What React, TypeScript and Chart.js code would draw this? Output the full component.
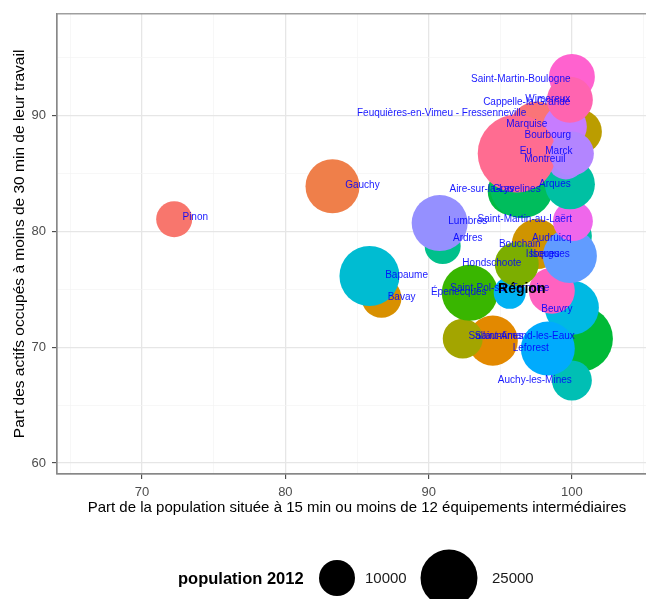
import React, { useEffect, useRef } from "react";
import { Chart, registerables } from "chart.js";
Chart.register(...registerables);

// ---- data (drawing order: back to front) ----
const communes = [
  "Pinon", "Gauchy", "Bavay", "Bapaume", "Ardres", "Lumbres", "Sallaumines", "Wingles",
  "Éperlecques", "Saint-Amand-les-Eaux", "Auchy-les-Mines", "Beuvry", "Leforest",
  "Saint-Pol-sur-Ternoise", "Lillers", "Audruicq", "Bouchain", "Isques", "Isbergues",
  "Hondschoote", "Saint-Martin-au-Laërt", "Feuquières-en-Vimeu - Fressenneville",
  "Aire-sur-la-Lys", "Gravelines", "Arques", "Bourbourg", "Marquise", "Montreuil", "Eu",
  "Marck", "Saint-Martin-Boulogne", "Cappelle-la-Grande", "Wimereux",
];
const xValues = [
  72.24, 83.29, 86.71, 85.87, 90.98, 90.77, 94.48, 92.38,
  92.87, 100.56, 100.0, 100.0, 98.32,
  95.66, 98.6, 100.0, 97.55, 99.58, 99.86,
  96.15, 100.07, 97.55,
  95.8, 96.5, 99.86, 100.56, 99.51, 99.58, 96.15,
  100.0, 100.0, 99.72, 99.86,
];
const yValues = [
  81.06, 83.9, 74.27, 76.16, 78.74, 80.72, 70.57, 70.74,
  74.7, 70.74, 67.13, 73.41, 69.88,
  74.7, 74.87, 79.6, 78.91, 77.62, 77.88,
  77.19, 80.89, 88.8,
  83.47, 83.9, 84.07, 88.62, 89.05, 86.05, 86.73,
  86.73, 93.35, 91.2, 91.38,
];
const population = [
  10000, 22500, 12300, 27800, 10000, 24200, 19300, 12300,
  24200, 33600, 12300, 22500, 22500,
  7900, 16300, 12300, 19300, 10000, 22500,
  14900, 12300, 24200,
  17800, 31600, 19300, 14900, 14900, 10000, 47000,
  14900, 16300, 12300, 16300,
];
const colors = [
  "#F8766D", "#EF7F4A", "#D89000", "#00BCD2", "#00C08B", "#9590FF", "#E38900", "#A3A500",
  "#39B600", "#00BA38", "#00BFB4", "#00B9E3", "#00ABFD",
  "#00B2F3", "#FF62C0", "#00C1A0", "#CF9400", "#7997FF", "#619CFF",
  "#7CAE00", "#EF67EB", "#FA7478",
  "#00BA42", "#00BD5C", "#00C0A3", "#BB9D00", "#C77CFF", "#AA88FF", "#FF6C91",
  "#B385FF", "#FF62CF", "#FF66BC", "#FF64B0",
];
// label anchors (data units) and texts
const labelText = communes.map((c) => (c === "Wingles" || c === "Lillers" ? "" : c));
const labelX = [
  73.71, 85.38, 88.11, 88.46, 92.73, 92.73, 94.69, 0,
  92.1, 96.71, 97.41, 98.95, 97.13,
  94.97, 0, 98.6, 96.36, 98.11, 98.32,
  94.41, 96.71, 90.91,
  93.71, 96.15, 98.81, 98.32, 96.85, 98.11, 96.78,
  99.09, 96.43, 96.85, 98.32,
];
const labelY = [
  81.23, 83.98, 74.35, 76.25, 79.43, 80.89, 70.92, 0,
  74.78, 70.92, 67.13, 73.24, 69.88,
  75.13, 0, 79.43, 78.91, 78.05, 78.05,
  77.28, 81.06, 90.17,
  83.64, 83.64, 84.07, 88.28, 89.23, 86.22, 86.91,
  86.91, 93.18, 91.2, 91.46,
];
const regionLabel = "Région";
const regionX = 96.5;
const regionY = 75.82;
const legendTitle = "population 2012";
const legendSizes = [10000, 25000];
const xTitle = "Part de la population située à 15 min ou moins de 12 équipements intermédiaires";
const yTitle = "Part des actifs occupés à moins de 30 min de leur travail";
const xMin = 64.06, xMax = 105.94, yMin = 59.05, yMax = 98.8;

const sizeScale = (pop: number) => 0.18 * Math.sqrt(pop);
const FONT = '"Liberation Sans", Arial, sans-serif';

export default function App() {
  const ref = useRef<HTMLCanvasElement | null>(null);
  useEffect(() => {
    if (!ref.current) return;
    document.body.style.overflow = "hidden";
    const bubbleData = communes.map((_, i) => ({ x: xValues[i], y: yValues[i], r: sizeScale(population[i]) }));

    const overlay = {
      id: "overlay",
      afterDatasetsDraw(chart: any) {
        const { ctx, scales, chartArea } = chart;
        const xs = scales.x, ys = scales.y;
        ctx.save();
        ctx.beginPath();
        ctx.rect(chartArea.left, chartArea.top, chartArea.right - chartArea.left, chartArea.bottom - chartArea.top);
        ctx.clip();
        ctx.font = `10px ${FONT}`;
        ctx.fillStyle = "rgba(0,0,255,0.9)";
        ctx.textAlign = "center";
        ctx.textBaseline = "middle";
        labelText.forEach((t, i) => {
          if (!t) return;
          ctx.fillText(t, xs.getPixelForValue(labelX[i]), ys.getPixelForValue(labelY[i]));
        });
        ctx.font = `bold 14px ${FONT}`;
        ctx.fillStyle = "#000";
        ctx.fillText(regionLabel, xs.getPixelForValue(regionX), ys.getPixelForValue(regionY) + 9);
        ctx.restore();
        ctx.save();
        ctx.strokeStyle = "#888888";
        ctx.lineWidth = 1.2;
        ctx.strokeRect(chartArea.left, chartArea.top, chartArea.right - chartArea.left, chartArea.bottom - chartArea.top);
        ctx.restore();
      },
      afterDraw(chart: any) {
        const { ctx } = chart;
        ctx.save();
        const cy = 578;
        ctx.textBaseline = "middle";
        ctx.textAlign = "left";
        ctx.fillStyle = "#000";
        ctx.font = `bold 16.5px ${FONT}`;
        ctx.fillText(legendTitle, 178, cy + 1);
        const cx = [337, 449];
        const tx = [365, 492];
        legendSizes.forEach((p, i) => {
          ctx.beginPath();
          ctx.arc(cx[i], cy, sizeScale(p), 0, Math.PI * 2);
          ctx.fillStyle = "#000";
          ctx.fill();
          ctx.font = `15px ${FONT}`;
          ctx.fillStyle = "#1a1a1a";
          ctx.fillText(String(p), tx[i], cy + 1);
        });
        ctx.restore();
      },
    };

    const gridOpts = {
      color: (c: any) => (c.tick && c.tick.value % 10 === 0 ? "#E6E6E6" : "#F4F4F4"),
      lineWidth: (c: any) => (c.tick && c.tick.value % 10 === 0 ? 1.3 : 0.7),
      tickColor: (c: any) => (c.tick && c.tick.value % 10 === 0 ? "#333333" : "rgba(0,0,0,0)"),
      tickLength: 5,
      tickWidth: 1,
    };

    const chart = new Chart(ref.current, {
      type: "bubble",
      data: {
        datasets: [
          {
            label: "communes",
            data: bubbleData,
            backgroundColor: colors,
            borderWidth: 0,
            hoverBorderWidth: 0,
          } as any,
          {
            type: "scatter",
            label: regionLabel,
            data: [{ x: regionX, y: regionY }],
            pointStyle: "triangle",
            pointRadius: 6,
            backgroundColor: "#FF0000",
            borderColor: "#FF0000",
            borderWidth: 0,
          } as any,
        ],
      },
      options: {
        animation: false,
        responsive: true,
        maintainAspectRatio: false,
        events: [],
        layout: { autoPadding: false, padding: { left: 0, top: 12, right: 8, bottom: 81 } },
        plugins: { legend: { display: false }, tooltip: { enabled: false } },
        scales: {
          x: {
            type: "linear",
            min: xMin,
            max: xMax,
            afterFit: (s: any) => { s.height = 44; },
            ticks: {
              stepSize: 5,
              includeBounds: false,
              padding: 6,
              maxRotation: 0,
              autoSkip: false,
              color: "#4D4D4D",
              font: { family: FONT, size: 13 },
              callback: (v: any) => (Number(v) % 10 === 0 ? String(v) : ""),
            },
            grid: gridOpts,
            border: { display: true, color: "#888888", width: 1.2 },
            title: { display: true, text: xTitle, color: "#000", font: { family: FONT, size: 15 }, padding: { top: 0, bottom: 1 } },
          },
          y: {
            type: "linear",
            min: yMin,
            max: yMax,
            afterFit: (s: any) => { s.width = 57; },
            ticks: {
              stepSize: 5,
              includeBounds: false,
              padding: 6,
              autoSkip: false,
              color: "#4D4D4D",
              font: { family: FONT, size: 13 },
              callback: (v: any) => (Number(v) % 10 === 0 ? String(v) : ""),
            },
            grid: gridOpts,
            border: { display: true, color: "#888888", width: 1.2 },
            title: { display: true, text: yTitle, color: "#000", font: { family: FONT, size: 15.5 }, padding: { top: 10, bottom: 0 } },
          },
        },
      } as any,
      plugins: [overlay],
    });
    return () => chart.destroy();
  }, []);

  return (
    <div style={{ position: "fixed", left: 0, top: 0, width: 665, height: 599, background: "#fff" }}>
      <canvas ref={ref} />
    </div>
  );
}
